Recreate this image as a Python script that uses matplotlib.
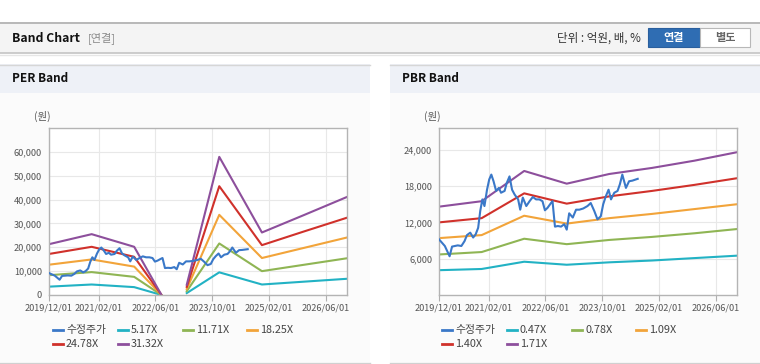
import matplotlib
matplotlib.use("Agg")
import matplotlib.pyplot as plt
import matplotlib.dates as mdates
import numpy as np
import pandas as pd
from matplotlib.patches import Rectangle
from matplotlib.lines import Line2D

plt.rcParams["font.family"] = ["Noto Sans CJK KR", "DejaVu Sans"]

# ---- data ----
price_dates = [
    "2019-12-01", "2020-01-20", "2020-03-01", "2020-03-22", "2020-05-10", "2020-06-10",
    "2020-07-07", "2020-07-28", "2020-08-25", "2020-09-19", "2020-10-10", "2020-11-01",
    "2020-11-19", "2020-12-07", "2020-12-25", "2021-01-16", "2021-02-04", "2021-02-22",
    "2021-03-13", "2021-04-04", "2021-04-28", "2021-05-16", "2021-06-16", "2021-07-04",
    "2021-07-28", "2021-08-19", "2021-09-10", "2021-10-10", "2021-10-28", "2021-11-19",
    "2021-12-19", "2022-01-16", "2022-02-13", "2022-03-13", "2022-04-10", "2022-05-07",
    "2022-05-28", "2022-06-19", "2022-07-19", "2022-08-01", "2022-08-22", "2022-09-16",
    "2022-10-13", "2022-11-10", "2022-12-01", "2022-12-22", "2023-01-22", "2023-02-19",
    "2023-03-19", "2023-04-22", "2023-05-28", "2023-06-25", "2023-07-25", "2023-08-22",
    "2023-09-19", "2023-10-10", "2023-11-01", "2023-11-25", "2023-12-16", "2024-01-13",
    "2024-02-10", "2024-03-01", "2024-03-22", "2024-04-22", "2024-05-19", "2024-06-16",
    "2024-08-01",
]
price = [
    9200, 8100, 6400, 8000, 8200, 8100,
    8900, 9900, 10300, 9500, 10000, 11100,
    13900, 15800, 14700, 17400, 19100, 19900,
    18800, 17200, 17700, 16900, 17200, 18500,
    19600, 17400, 16600, 15800, 14100, 16100,
    14700, 15500, 16200, 15800, 15800, 15500,
    14000, 14400, 15200, 15500, 11300, 11400,
    11300, 11700, 10800, 13500, 12800, 14100,
    14100, 14300, 14700, 15200, 13900, 12500,
    13000, 15000, 16300, 17400, 15800, 16900,
    17200, 18300, 19900, 17700, 18800, 18900,
    19200,
]

per_dates = ["2019-12-01", "2020-12-01", "2021-12-01", "2022-07-20", "2022-11-01",
             "2023-02-25", "2023-12-01", "2024-12-01", "2025-12-01", "2026-12-01"]
per_labels = ["5.17X", "11.71X", "18.25X", "24.78X", "31.32X"]
per_517 = [3500, 4400, 3300, 50, np.nan, 800, 9500, 4400, 5600, 6800]
per_1171 = [8300, 9600, 7600, 100, np.nan, 1600, 21600, 10000, 12700, 15400]
per_1825 = [12700, 14900, 11900, 200, np.nan, 2500, 33600, 15500, 19800, 24100]
per_2478 = [17200, 20200, 16000, 250, np.nan, 3400, 45600, 20900, 26700, 32400]
per_3132 = [21300, 25500, 20200, 300, np.nan, 4300, 57900, 26200, 33600, 41100]

pbr_dates = ["2019-12-01", "2020-12-01", "2021-12-01", "2022-12-01",
             "2023-12-01", "2024-12-01", "2025-12-01", "2026-12-01"]
pbr_labels = ["0.47X", "0.78X", "1.09X", "1.40X", "1.71X"]
pbr_047 = [4100, 4300, 5500, 5000, 5400, 5700, 6100, 6500]
pbr_078 = [6700, 7100, 9300, 8400, 9100, 9600, 10200, 10900]
pbr_109 = [9400, 9900, 13100, 11800, 12700, 13400, 14200, 15000]
pbr_140 = [12000, 12700, 16800, 15100, 16300, 17200, 18200, 19300]
pbr_171 = [14600, 15500, 20500, 18400, 20000, 21000, 22200, 23600]

x_ticks = ["2019-12-01", "2021-02-01", "2022-06-01", "2023-10-01", "2025-02-01", "2026-06-01"]

price_color = "#3a78c8"
band_colors = ["#22b2c4", "#8fb554", "#f2a43a", "#d0312b", "#8d4f9c"]

# ---- figure & pixel helpers ----
W, H = 760, 364
fig = plt.figure(figsize=(W / 100, H / 100), dpi=100)
fig.patch.set_facecolor("white")


def box(x, y, w, h):
    return [x / W, 1 - (y + h) / H, w / W, h / H]


def rect(x, y, w, h, fc, ec="none", lw=0):
    fig.add_artist(Rectangle((x / W, 1 - (y + h) / H), w / W, h / H, fc=fc, ec=ec, lw=lw,
                             transform=fig.transFigure, zorder=0))


def hline(x0, x1, y, color, lw=1.0):
    fig.add_artist(Line2D([x0 / W, x1 / W], [1 - y / H] * 2, color=color, lw=lw,
                          transform=fig.transFigure, zorder=1))


def text(x, y, s, **kw):
    fig.text(x / W, 1 - y / H, s, va="center", **kw)


# top header bar
rect(0, 22, 760, 31, "#f4f4f4")
hline(0, 760, 22.5, "#b3b3b3", 1.3)
hline(0, 760, 53, "#c4c4c4", 1.2)
hline(0, 760, 54.5, "#e6e6e6", 1.0)
text(12, 38, "Band Chart", fontsize=8.8, fontweight="bold", color="#111111")
text(88, 38, "[연결]", fontsize=8, color="#8a8a8a")
text(641, 38, "단위 : 억원, 배, %", fontsize=8.3, color="#333333", ha="right")
fig.add_artist(Rectangle((648 / W, 1 - 47 / H), 52 / W, 19 / H, fc="#2f6db3", ec="#2a5f9e",
                         lw=0.8, transform=fig.transFigure, zorder=2))
fig.add_artist(Rectangle((700 / W, 1 - 47 / H), 50 / W, 19 / H, fc="white", ec="#b8b8b8",
                         lw=0.8, transform=fig.transFigure, zorder=2))
text(674, 37.5, "연결", fontsize=8, fontweight="bold", color="white", ha="center", zorder=3)
text(725, 37.5, "별도", fontsize=8, fontweight="bold", color="#666666", ha="center", zorder=3)

# panels
for px, name in [(0, "PER Band"), (390, "PBR Band")]:
    rect(px, 64, 370, 298, "#fbfbfb")
    rect(px, 64, 370, 29, "#eef1f7")
    hline(px, px + 370, 64.5, "#d6d6d6", 1.0)
    hline(px, px + 370, 362.5, "#d0d0d0", 1.0)
    text(px + 12, 79, name, fontsize=8.5, fontweight="bold", color="#111111")


def style_axes(ax, yticks, ymax):
    ax.set_facecolor("white")
    ax.set_xlim(pd.Timestamp("2019-12-01"), pd.Timestamp("2026-12-01"))
    ax.set_ylim(0, ymax)
    ax.set_xticks(pd.to_datetime(x_ticks))
    ax.xaxis.set_major_formatter(mdates.DateFormatter("%Y/%m/%d"))
    ax.set_yticks(yticks)
    ax.set_yticklabels([f"{v:,}" for v in yticks])
    ax.tick_params(axis="x", length=4, width=0.8, color="#b0b0b0", labelsize=6.6,
                   labelcolor="#555555", pad=2)
    ax.tick_params(axis="y", length=0, labelsize=6.6, labelcolor="#555555", pad=5)
    ax.grid(True, color="#e8e8e8", lw=0.8)
    ax.set_axisbelow(True)
    for s in ax.spines.values():
        s.set_color("#b4b4b4")
        s.set_linewidth(1.0)


def legend(px, labels):
    items = [("수정주가", price_color)] + list(zip(labels, band_colors))
    cols = [0, 65, 130, 194]
    for i, (lab, col) in enumerate(items):
        r, c = divmod(i, 4)
        x0 = px + cols[c]
        y = 330 + r * 14
        hline(x0, x0 + 10, y, col, 2.0)
        text(x0 + 13, y, lab, fontsize=7.8, color="#444444")


# PER chart
ax1 = fig.add_axes(box(49, 128, 298, 167))
d = pd.to_datetime(per_dates)
for vals, col in zip([per_517, per_1171, per_1825, per_2478, per_3132], band_colors):
    ax1.plot(d, vals, color=col, lw=1.5, zorder=2)
ax1.plot(pd.to_datetime(price_dates), price, color=price_color, lw=1.5, zorder=3)
style_axes(ax1, [0, 10000, 20000, 30000, 40000, 50000, 60000], 70000)
text(34, 116, "(원)", fontsize=7.5, color="#555555")
legend(53, per_labels)

# PBR chart
ax2 = fig.add_axes(box(439, 128, 298, 167))
d = pd.to_datetime(pbr_dates)
for vals, col in zip([pbr_047, pbr_078, pbr_109, pbr_140, pbr_171], band_colors):
    ax2.plot(d, vals, color=col, lw=1.5, zorder=2)
ax2.plot(pd.to_datetime(price_dates), price, color=price_color, lw=1.5, zorder=3)
style_axes(ax2, [6000, 12000, 18000, 24000], 27600)
text(424, 116, "(원)", fontsize=7.5, color="#555555")
legend(442, pbr_labels)

fig.savefig("out.png", dpi=100)
